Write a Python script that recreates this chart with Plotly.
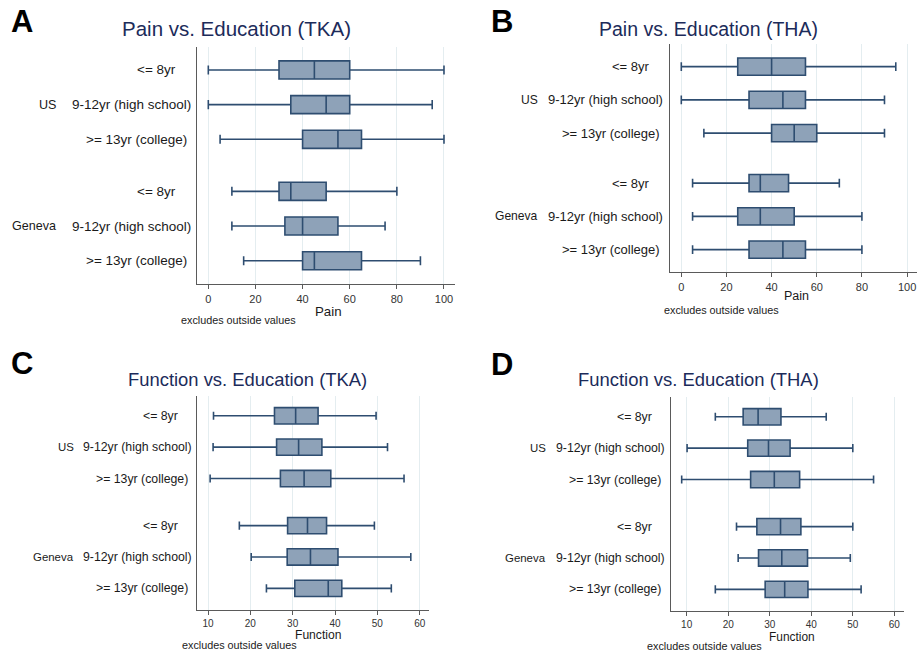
import plotly.graph_objects as go

W, H = 921, 654

# ---------------- data ----------------
sites = ["US", "Geneva"]
education = ["<= 8yr", "9-12yr (high school)", ">= 13yr (college)"]

# Panel A: Pain vs. Education (TKA)
A_lo = [0, 0, 5, 10, 10, 15]
A_q1 = [30, 35, 40, 30, 32.5, 40]
A_med = [45, 50, 55, 35, 40, 45]
A_q3 = [60, 60, 65, 50, 55, 65]
A_hi = [100, 95, 100, 80, 75, 90]

# Panel B: Pain vs. Education (THA)
B_lo = [0, 0, 10, 5, 5, 5]
B_q1 = [25, 30, 40, 30, 25, 30]
B_med = [40, 45, 50, 35, 35, 45]
B_q3 = [55, 55, 60, 47.5, 50, 55]
B_hi = [95, 90, 90, 70, 80, 80]

# Panel C: Function vs. Education (TKA)
C_lo = [11.3, 11.2, 10.5, 17.4, 20.2, 23.8]
C_q1 = [25.7, 26.2, 27.1, 28.8, 28.7, 30.5]
C_med = [30.7, 31.4, 32.7, 33.5, 34.2, 38.4]
C_q3 = [36.0, 36.9, 39.0, 38.0, 40.7, 41.6]
C_hi = [49.7, 52.4, 56.3, 49.3, 57.9, 53.3]

# Panel D: Function vs. Education (THA)
D_lo = [16.9, 10.1, 8.8, 22.0, 22.4, 16.9]
D_q1 = [23.6, 24.7, 25.4, 26.9, 27.3, 28.9]
D_med = [27.2, 29.7, 31.1, 32.6, 32.9, 33.6]
D_q3 = [32.7, 34.9, 37.2, 37.5, 39.1, 39.2]
D_hi = [43.6, 50.0, 55.0, 50.0, 49.4, 52.0]

pain_ticks = [0, 20, 40, 60, 80, 100]
func_ticks = [10, 20, 30, 40, 50, 60]

titles = ["Pain vs. Education (TKA)", "Pain vs. Education (THA)",
          "Function vs. Education (TKA)", "Function vs. Education (THA)"]
letters = ["A", "B", "C", "D"]
xtitles = ["Pain", "Pain", "Function", "Function"]
note = "excludes outside values"

# ---------------- layout helpers ----------------
rows_pos = [0, 1, 2, 3.5, 4.5, 5.5]   # category slots (gap between sites)
FONT = "Arial, Liberation Sans, Helvetica, sans-serif"
BOX_FILL = "#8ea2b8"
BOX_LINE = "#2e4d70"
TITLE_C = "#1c2b5a"
AXIS_C = "#5a5a5a"
GRID_C = "#e4edf0"


def px(x):
    return x / W


def py(y):
    return 1 - y / H


panels = [
    dict(data=(A_lo, A_q1, A_med, A_q3, A_hi), ticks=pain_ticks, xr=[-4.67, 104.67],
         dom=(197.3, 455, 46.7, 284.3), yr=[6.18, -0.67],
         tick_fs=11, lab_fs=13.5, title_fs=20.5, title_xy=(236.2, 28),
         letter_xy=(22, 21), xt_xy=(328.5, 311), xt_fs=13.3, note_xy=(238, 320),
         lab_shift=[-19, -4, -8], grp_right=58.3),
    dict(data=(B_lo, B_q1, B_med, B_q3, B_hi), ticks=pain_ticks, xr=[-4.87, 104.4],
         dom=(670.3, 917, 44.3, 272.3), yr=[6.18, -0.67],
         tick_fs=11, lab_fs=13, title_fs=19.5, title_xy=(708.8, 29.3),
         letter_xy=(502, 21), xt_xy=(796.5, 295.5), xt_fs=12.5, note_xy=(721.5, 309.8),
         lab_shift=[-18.6, -5, -8.6], grp_right=540),
    dict(data=(C_lo, C_q1, C_med, C_q3, C_hi), ticks=func_ticks, xr=[7.47, 62.27],
         dom=(197.3, 429.3, 396, 610), yr=[6.19, -0.63],
         tick_fs=10, lab_fs=12.3, title_fs=18.4, title_xy=(247.5, 379.3),
         letter_xy=(22, 363), xt_xy=(318, 635.3), xt_fs=12.1, note_xy=(239, 645),
         lab_shift=[-17, -3.6, -7], grp_right=76),
    dict(data=(D_lo, D_q1, D_med, D_q3, D_hi), ticks=func_ticks, xr=[6.3, 62.4],
         dom=(671.3, 904.3, 396.7, 611), yr=[6.19, -0.64],
         tick_fs=10, lab_fs=12.3, title_fs=18.45, title_xy=(698.8, 379),
         letter_xy=(502, 364), xt_xy=(792, 636.5), xt_fs=11.9, note_xy=(704.5, 646),
         lab_shift=[-17.3, -4.6, -8.3], grp_right=548.3),
]

fig = go.Figure()
annotations = []
layout = {}

for i, p in enumerate(panels):
    n = "" if i == 0 else str(i + 1)
    xa, ya = "x" + n, "y" + n
    lo, q1, med, q3, hi = p["data"]
    fig.add_trace(go.Box(
        orientation="h", y=rows_pos, q1=q1, median=med, q3=q3,
        lowerfence=lo, upperfence=hi, boxpoints=False,
        width=0.52, whiskerwidth=0.5,
        fillcolor=BOX_FILL, line=dict(color=BOX_LINE, width=1.6),
        xaxis=xa, yaxis=ya, showlegend=False, hoverinfo="skip"))

    x0, x1, y0, y1 = p["dom"]
    layout["xaxis" + n] = dict(
        domain=[px(x0), px(x1)], range=p["xr"], anchor=ya,
        tickmode="array", tickvals=p["ticks"], ticktext=[str(t) for t in p["ticks"]],
        showgrid=True, gridcolor=GRID_C, gridwidth=1, zeroline=False,
        showline=True, linecolor=AXIS_C, linewidth=1.3,
        ticks="outside", ticklen=4, tickcolor=AXIS_C, tickwidth=1,
        tickfont=dict(family=FONT, size=p["tick_fs"], color="#333333"))
    layout["yaxis" + n] = dict(
        domain=[py(y1), py(y0)], range=p["yr"], anchor=xa,
        showgrid=False, zeroline=False, showticklabels=False, ticks="",
        showline=True, linecolor=AXIS_C, linewidth=1.3)

    # category labels
    for k, pos in enumerate(rows_pos):
        j = k % 3
        annotations.append(dict(
            text=education[j], xref=xa + " domain", yref=ya, x=0, y=pos,
            xanchor="right", yanchor="middle", xshift=p["lab_shift"][j],
            showarrow=False, font=dict(family=FONT, size=p["lab_fs"], color="#1a1a1a")))
    # site group labels (next to the middle row)
    for g, site in enumerate(sites):
        annotations.append(dict(
            text=site, xref="paper", yref=ya, x=px(p["grp_right"]), y=rows_pos[3 * g + 1],
            xanchor="right", yanchor="middle", showarrow=False,
            font=dict(family=FONT, size=p["lab_fs"] * 0.93, color="#1a1a1a")))

    # title
    annotations.append(dict(
        text=titles[i], xref="paper", yref="paper",
        x=px(p["title_xy"][0]), y=py(p["title_xy"][1]),
        xanchor="center", yanchor="middle", showarrow=False,
        font=dict(family=FONT, size=p["title_fs"], color=TITLE_C)))
    # panel letter
    annotations.append(dict(
        text="<b>" + letters[i] + "</b>", xref="paper", yref="paper",
        x=px(p["letter_xy"][0]), y=py(p["letter_xy"][1]),
        xanchor="center", yanchor="middle", showarrow=False,
        font=dict(family=FONT, size=31, color="#000000")))
    # x axis title
    annotations.append(dict(
        text=xtitles[i], xref="paper", yref="paper",
        x=px(p["xt_xy"][0]), y=py(p["xt_xy"][1]),
        xanchor="center", yanchor="middle", showarrow=False,
        font=dict(family=FONT, size=p["xt_fs"], color="#1a1a1a")))
    # note
    annotations.append(dict(
        text=note, xref="paper", yref="paper",
        x=px(p["note_xy"][0]), y=py(p["note_xy"][1]),
        xanchor="center", yanchor="middle", showarrow=False,
        font=dict(family=FONT, size=10.8, color="#222222")))

fig.update_layout(
    width=W, height=H, margin=dict(l=0, r=0, t=0, b=0),
    paper_bgcolor="white", plot_bgcolor="white",
    showlegend=False, annotations=annotations, **layout)

fig.write_html("out.html", config={"displayModeBar": False},
               post_script="document.body.style.margin='0';")
